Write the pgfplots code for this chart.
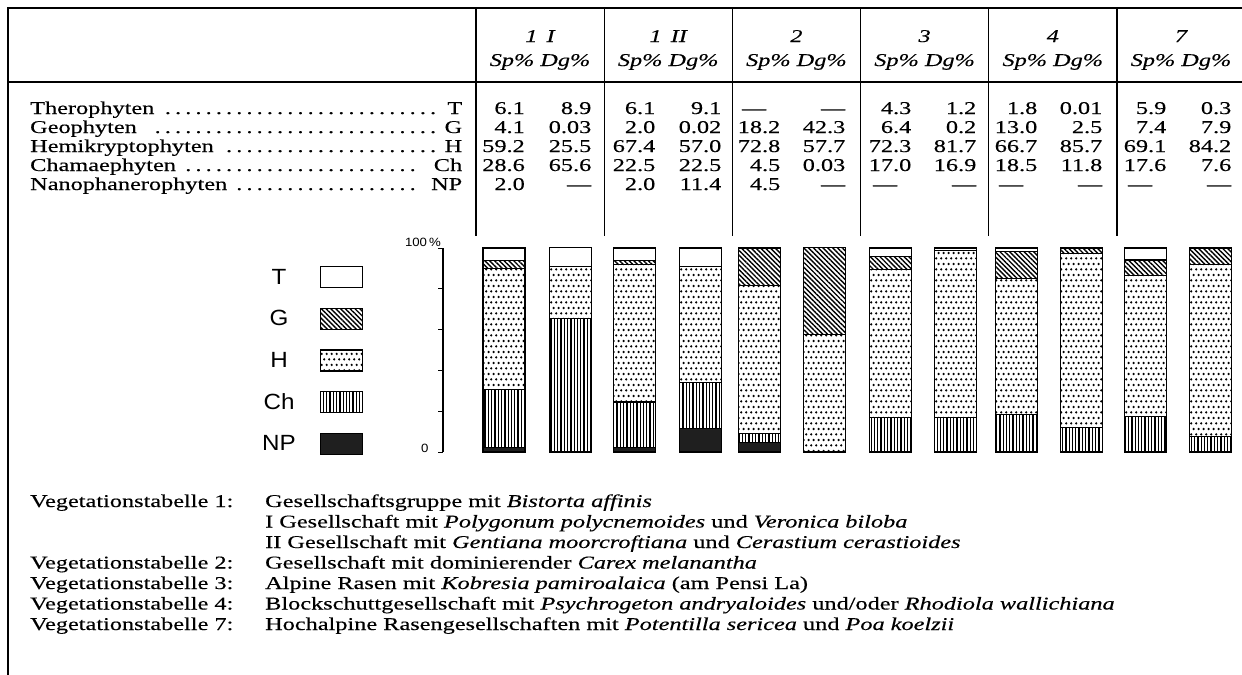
\documentclass[border=0pt]{standalone}
\usepackage{pgfplots}
\pgfplotsset{compat=1.18}
\usepackage{pgfplotstable}
\usepackage{fontspec}
\setmainfont{Liberation Serif}[FakeStretch=1.35,FakeBold=0.3]
\setsansfont{Liberation Sans}[FakeStretch=1.1]
\usetikzlibrary{patterns,patterns.meta}

\pgfdeclarepatternformonly{hdots}{\pgfpoint{0bp}{0bp}}{\pgfpoint{5.4bp}{10.8bp}}{\pgfpoint{5.4bp}{10.8bp}}{%
  \pgfpathcircle{\pgfpoint{1.35bp}{2.7bp}}{1.3bp}%
  \pgfpathcircle{\pgfpoint{4.05bp}{8.1bp}}{1.3bp}%
  \pgfusepath{fill}}

\pgfplotsset{mylegend/.style={legend image code/.code={%
  \path (0bp,0bp);
  \draw[##1,line width=1.1bp] (24bp,-10.5bp) rectangle (66bp,10.5bp);}}}

% x = bar position (px), values in %
\pgfplotstableread{
x      NP    Ch     H     G     T
504    2.0   28.6   59.2  4.1   6.1
570.5  0     65.6   25.5  0.03  8.9
634.5  2.0   22.5   67.4  2.0   6.1
700.5  11.4  22.5   57.0  0.02  9.1
759.5  4.5   4.5    72.8  18.2  0
824.5  0     0.03   57.7  42.3  0
890.5  0     17.0   72.3  6.4   4.3
955.5  0     16.9   81.7  0.2   1.2
1016.5 0     18.5   66.7  13.0  1.8
1081.5 0     11.8   85.7  2.5   0.01
1145.5 0     17.6   69.1  7.4   5.9
1210.5 0     7.6    84.2  7.9   0.3
}\bardata

\newcommand\vrow[2]{%
  \foreach \v [count=\i from 0] in {#2} {%
    \pgfmathsetmacro\xx{{525,591.5,655.5,721.5,780.5,845.5,911.5,976.5,1037.5,1102.5,1166.5,1231.5}[\i]}%
    \node[anchor=base east] at (\xx,#1) {\v};}}
\newcommand\dotlead{\leaders\hbox to 10.2bp{\hss.\hss}\hfill}

\begin{document}
\begin{tikzpicture}
\useasboundingbox (0,0) rectangle (1242bp,-675bp);
\fill[white] (0,0) rectangle (1242bp,-675bp);
\begin{scope}[x=1bp,y=-1bp,every node/.style={inner sep=0pt,font=\fontsize{18bp}{20bp}\selectfont}]
  % frame
  \draw[line width=1.4bp] (8,675) -- (8,8) -- (1242,8);
  \draw[line width=1.4bp] (8,82) -- (1242,82);
  \foreach \i in {0,...,5} {\draw[line width=1.3bp] ({476+128.2*\i},8) -- ({476+128.2*\i},236);}
  % header
  \foreach \lab [count=\i from 0] in {1\ \,I,1\ \,II,2,3,4,7} {%
    \node[anchor=base,font=\fontsize{18bp}{20bp}\selectfont\itshape] at ({540+128.2*\i},42) {\lab};
    \node[anchor=base,font=\fontsize{18bp}{20bp}\selectfont\itshape] at ({540+128.2*\i},66) {Sp\% Dg\%};}
  % row names
  \foreach \n/\a/\y in {Therophyten/T/114, Geophyten\ /G/133, Hemikryptophyten\ /H/152, Chamaephyten/Ch/171, Nanophanerophyten/NP/190}
    {\node[anchor=base west] at (30,\y) {\hbox to 432bp{\n\dotlead\ \a}};}
  % values
  \vrow{114}{6.1,8.9,6.1,9.1,\textemdash\kern14bp,\textemdash,4.3,1.2,1.8,0.01,5.9,0.3}
  \vrow{133}{4.1,0.03,2.0,0.02,18.2,42.3,6.4,0.2,13.0,2.5,7.4,7.9}
  \vrow{152}{59.2,25.5,67.4,57.0,72.8,57.7,72.3,81.7,66.7,85.7,69.1,84.2}
  \vrow{171}{28.6,65.6,22.5,22.5,4.5,0.03,17.0,16.9,18.5,11.8,17.6,7.6}
  \vrow{190}{2.0,\textemdash,2.0,11.4,4.5,\textemdash,\textemdash\kern14bp,\textemdash,\textemdash\kern14bp,\textemdash,\textemdash\kern14bp,\textemdash}
  % captions
  \node[anchor=base west] at (30,507) {Vegetationstabelle 1:};
  \node[anchor=base west] at (265,507) {Gesellschaftsgruppe mit \textit{Bistorta affinis}};
  \node[anchor=base west] at (265,527.5) {I Gesellschaft mit \textit{Polygonum polycnemoides} und \textit{Veronica biloba}};
  \node[anchor=base west] at (265,548) {II Gesellschaft mit \textit{Gentiana moorcroftiana} und \textit{Cerastium cerastioides}};
  \node[anchor=base west] at (30,568.5) {Vegetationstabelle 2:};
  \node[anchor=base west] at (265,568.5) {Gesellschaft mit dominierender \textit{Carex melanantha}};
  \node[anchor=base west] at (30,589) {Vegetationstabelle 3:};
  \node[anchor=base west] at (265,589) {Alpine Rasen mit \textit{Kobresia pamiroalaica} (am Pensi La)};
  \node[anchor=base west] at (30,609.5) {Vegetationstabelle 4:};
  \node[anchor=base west] at (265,609.5) {Blockschuttgesellschaft mit \textit{Psychrogeton andryaloides} und/oder \textit{Rhodiola wallichiana}};
  \node[anchor=base west] at (30,630) {Vegetationstabelle 7:};
  \node[anchor=base west] at (265,630) {Hochalpine Rasengesellschaften mit \textit{Potentilla sericea} und \textit{Poa koelzii}};
\end{scope}

\begin{axis}[
  at={(443bp,-452bp)}, anchor=south west,
  x=1bp, y=2.04bp,
  xmin=443, xmax=1242, ymin=0, ymax=100,
  clip=false,
  axis x line=none, axis y line=left,
  axis line style={line width=1.2bp,-},
  xtick=\empty,
  ytick={0,20,40,60,80,100}, yticklabels={0,,,,,},
  tick align=outside, major tick length=5bp,
  tick style={line width=1bp,black},
  yticklabel style={font=\sffamily\fontsize{12bp}{12bp}\selectfont, xshift=-6bp, yshift=4bp},
  ybar stacked, bar width=42bp,
  reverse legend,
  legend plot pos=right,
  legend cell align=center,
  legend style={draw=none, fill=none, inner sep=0pt,
    at={(-0.2265,0.91176)}, anchor=north west,
    row sep=19.5bp, column sep=0bp,
    nodes={inner sep=0pt, font=\sffamily\fontsize{22bp}{22bp}\selectfont}},
]
\addplot[fill=black!88, draw=black, line width=1.1bp, mylegend] table[x=x,y=NP]{\bardata};
\addplot[pattern={Lines[angle=90,distance=3.3bp,line width=1.3bp]}, draw=black, line width=1.1bp, mylegend] table[x=x,y=Ch]{\bardata};
\addplot[pattern=hdots, draw=black, line width=1.1bp, mylegend] table[x=x,y=H]{\bardata};
\addplot[pattern={Lines[angle=-45,distance=3.4bp,line width=1.4bp]}, draw=black, line width=1.1bp, mylegend] table[x=x,y=G]{\bardata};
\addplot[fill=white, draw=black, line width=1.1bp, mylegend] table[x=x,y=T]{\bardata};
\legend{NP,Ch,H,G,T}
\node[anchor=south east, inner sep=0pt, font=\sffamily\fontsize{12bp}{12bp}\selectfont] at (axis cs:441,100.5) {100\,\%};
\end{axis}
\end{tikzpicture}
\end{document}
